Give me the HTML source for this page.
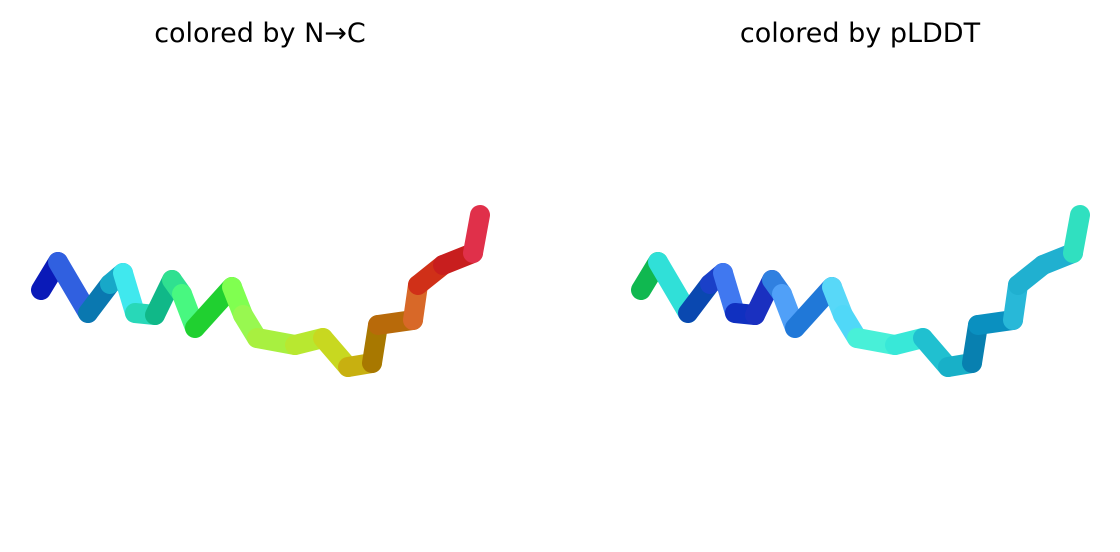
<!DOCTYPE html>
<html><head><meta charset="utf-8"><style>
body{margin:0;background:#fff;}
svg{display:block;}
text{font-family:"DejaVu Sans","Liberation Sans",sans-serif;font-size:27px;fill:#000;}
</style></head><body>
<svg width="1120" height="552" viewBox="0 0 1120 552">
<text x="260" y="42" text-anchor="middle">colored by N→C</text>
<text x="860" y="42" text-anchor="middle">colored by pLDDT</text>
<g id="left"></g>
<g id="right"></g>
</svg>
<script>
const xs=[41,58,88,110,123,135,155,172,182,195,232,243,257,295,323,348,372,378,413,418,443,473,480];
const ys=[290,262,313,284,273,313,315,280,294,328,287,315,338,345,338,367,363,325,320,285,265,253,215];
const colorsNC=["#0a1ab8","#3060e0","#0a78b0","#18a8c8","#40e8ee","#28d8b8","#10b888","#30e090","#48f880","#20d030","#80ff50","#98f850","#a8f040","#b8e830","#c8d820","#c8b010","#a87800","#b86a0a","#d86828","#d03018","#c81e1e","#e0304a"];
const colorsPL=["#10b850","#30e0d8","#0a48b0","#1a40c8","#4078f0","#1030c0","#1a30c0","#3080e0","#50a0f8","#2078d8","#58d8f8","#50d8f8","#48f0d8","#38e8d8","#20c0d0","#18b0c8","#0880b0","#0a90c0","#28b8d8","#20b0d0","#20b0d0","#30e0c0"];
const ns="http://www.w3.org/2000/svg";
function draw(gid,dx,cols){
  const g=document.getElementById(gid);
  for(let i=0;i<xs.length-1;i++){
    const l=document.createElementNS(ns,"line");
    l.setAttribute("x1",xs[i]+dx);l.setAttribute("y1",ys[i]);
    l.setAttribute("x2",xs[i+1]+dx);l.setAttribute("y2",ys[i+1]);
    l.setAttribute("stroke",cols[i]);l.setAttribute("stroke-width","20");
    l.setAttribute("stroke-linecap","round");
    
    
    g.appendChild(l);
  }
}
draw("left",0,colorsNC);
draw("right",600,colorsPL);
</script>
</body></html>
